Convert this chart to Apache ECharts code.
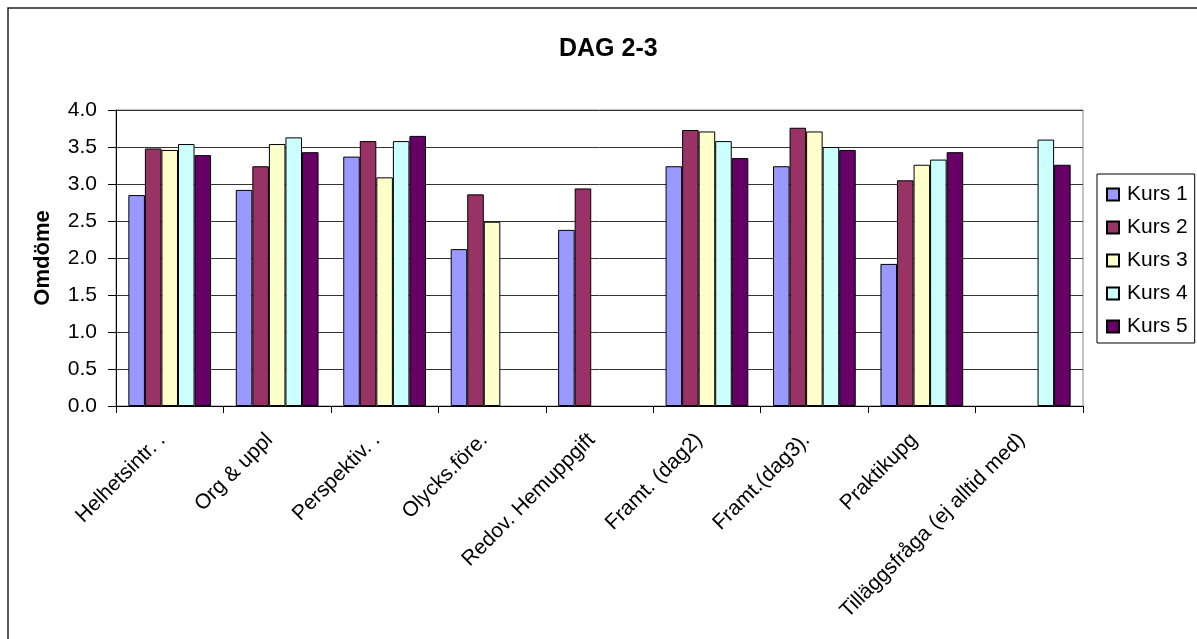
<!DOCTYPE html>
<html>
<head>
<meta charset="utf-8">
<script src="https://cdn.jsdelivr.net/npm/echarts@6/dist/echarts.min.js"></script>
<style>html,body{margin:0;padding:0;background:#fff;}#chart{width:1197px;height:639px;}</style>
</head>
<body>
<div id="chart"></div>
<script>
const categories = ["Helhetsintr. .", "Org & uppl", "Perspektiv. .", "Olycks.före.", "Redov. Hemuppgift", "Framt. (dag2)", "Framt.(dag3).", "Praktikupg", "Tilläggsfråga (ej alltid med)"];
const seriesNames = ["Kurs 1", "Kurs 2", "Kurs 3", "Kurs 4", "Kurs 5"];
const kurs1 = [2.85, 2.92, 3.37, 2.12, 2.38, 3.24, 3.24, 1.92, null];
const kurs2 = [3.48, 3.24, 3.58, 2.86, 2.94, 3.73, 3.76, 3.05, null];
const kurs3 = [3.46, 3.54, 3.09, 2.49, null, 3.71, 3.71, 3.26, null];
const kurs4 = [3.54, 3.63, 3.58, null, null, 3.58, 3.50, 3.33, 3.60];
const kurs5 = [3.39, 3.43, 3.65, null, null, 3.35, 3.46, 3.43, 3.26];
const colors = ["#9999FF", "#993366", "#FFFFCC", "#CCFFFF", "#660066"];
const yTicks = [0, 0.5, 1, 1.5, 2, 2.5, 3, 3.5, 4];

const allData = [kurs1, kurs2, kurs3, kurs4, kurs5];
const FONT = "'Liberation Sans', Arial, sans-serif";

const chart = echarts.init(document.getElementById('chart'), null, {renderer: 'canvas'});
chart.setOption({
  animation: false,
  backgroundColor: '#fff',
  textStyle: {fontFamily: FONT},
  graphic: [{
    type: 'rect',
    shape: {x: 8, y: 8, width: 1250, height: 700},
    style: {fill: 'none', stroke: '#222', lineWidth: 1.5},
    silent: true, z: -1
  }],
  title: {
    text: 'DAG 2-3', left: 554, top: 32,
    textStyle: {fontFamily: FONT, fontWeight: 'bold', fontSize: 25, color: '#000'}
  },
  legend: {
    orient: 'vertical', left: 1097, top: 174,
    padding: [10, 7, 6, 9],
    itemGap: 12, itemWidth: 12, itemHeight: 12,
    borderColor: '#000', borderWidth: 1,
    icon: 'rect',
    textStyle: {fontFamily: FONT, fontSize: 21, color: '#000', padding: [0, 0, 0, 3]},
    data: seriesNames
  },
  grid: {left: 116, right: 114, top: 110, bottom: 233, containLabel: false, show: true, borderColor: '#888', borderWidth: 1},
  xAxis: {
    type: 'category', data: categories,
    axisLine: {lineStyle: {color: '#000', width: 1}},
    axisTick: {show: true, length: 7, lineStyle: {color: '#000'}},
    axisLabel: {rotate: 45, interval: 0, margin: 23, fontFamily: FONT, fontSize: 21, color: '#000', padding: [0, 11, 0, 0]}
  },
  yAxis: {
    type: 'value', min: 0, max: 4, interval: 0.5,
    name: 'Omdöme', nameLocation: 'middle', nameGap: 62, nameRotate: 90,
    nameTextStyle: {fontFamily: FONT, fontWeight: 'bold', fontSize: 22, color: '#000'},
    axisLine: {show: true, lineStyle: {color: '#000', width: 1}},
    axisTick: {show: true, length: 8, lineStyle: {color: '#000'}},
    axisLabel: {margin: 19, fontFamily: FONT, fontSize: 21, color: '#000',
      formatter: v => (yTicks.indexOf(v) >= 0 ? v.toFixed(1) : '')},
    splitLine: {show: true, lineStyle: {color: '#333', width: 1}}
  },
  series: seriesNames.map((name, i) => ({
    name: name, type: 'bar', data: allData[i],
    barGap: '0%', barCategoryGap: '23%',
    itemStyle: {color: colors[i], borderColor: '#000', borderWidth: 1}
  }))
});
</script>
</body>
</html>
